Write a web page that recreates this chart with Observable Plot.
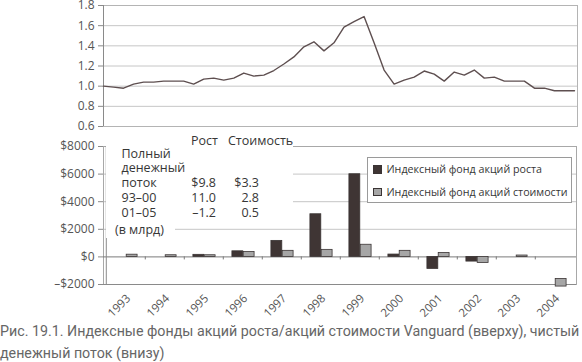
<!DOCTYPE html>
<html><head><meta charset="utf-8">
<script src="https://cdn.jsdelivr.net/npm/d3@7"></script>
<script src="https://cdn.jsdelivr.net/npm/@observablehq/plot@0.6"></script>
<style>
body{margin:0;background:#fff;}
#wrap{position:relative;width:582px;height:362px;overflow:hidden;font-family:"Open Sans",sans-serif;}
#wrap svg{position:absolute;left:0;overflow:visible;}
.t{position:absolute;white-space:nowrap;line-height:1;transform:translateY(-50%);}
</style></head><body><div id="wrap"></div>
<script>
// ---- Top chart: growth / value index ratio (quarterly, 1993–2004)
const ratio = [1.00,0.99,0.98,1.02,1.04,1.04,1.05,1.05,1.05,1.02,1.07,1.08,
               1.06,1.08,1.13,1.10,1.11,1.155,1.22,1.29,1.39,1.44,1.35,1.43,
               1.585,1.64,1.69,1.43,1.16,1.02,1.06,1.09,1.15,1.12,1.05,1.14,
               1.11,1.16,1.08,1.09,1.05,1.05,1.05,0.98,0.98,0.955,0.955,0.955];
const ratioTicks = [0.6,0.8,1.0,1.2,1.4,1.6,1.8];

// ---- Bottom chart: net cash flow ($ mln)
const years = ["1993","1994","1995","1996","1997","1998","1999","2000","2001","2002","2003","2004"];
const growthFlow = [0,0,150,405,1160,3090,5990,170,-870,-340,0,0];
const valueFlow = [160,120,120,360,440,510,880,440,290,-435,100,-2150];
const valueFlowStart = [0,0,0,0,0,0,0,0,0,0,0,-1600];
const flowTicks = [-2000,0,2000,4000,6000,8000];

// ---- Inset table and legend
const tableHeader = ["Рост","Стоимость"];
const tableRowLabels = ["Полный","денежный","поток","93–00","01–05","(в млрд)"];
const tableGrowth = ["","","$9.8","11.0","–1.2",""];
const tableValue = ["","","$3.3","2.8","0.5",""];
const seriesNames = ["Индексный фонд акций роста","Индексный фонд акций стоимости"];
const captionLines = ["Рис. 19.1. Индексные фонды акций роста/акций стоимости Vanguard (вверху), чистый",
                      "денежный поток (внизу)"];

const wrap = document.getElementById("wrap");
const FONT = "Open Sans";
const growthColor = "#3f3534", valueColor = "#a6a6a6", barStroke = "#3a3434";

// Top chart
const topChart = Plot.plot({
  width: 582, height: 130, marginLeft: 103, marginRight: 5, marginTop: 5, marginBottom: 4,
  style: {fontFamily: FONT, background: "transparent"},
  x: {domain: [0, 47.3], axis: null},
  y: {domain: [0.6, 1.8], axis: null},
  marks: [
    Plot.ruleY(ratioTicks, {stroke: "#c6c6c6"}),
    Plot.frame({stroke: "#b4b4b4"}),
    Plot.ruleX([0], {stroke: "#8a8a8a"}),
    Plot.axisY(ratioTicks, {tickSize: 5, tickPadding: 4, tickFormat: d => d.toFixed(1),
      stroke: "#8a8a8a", fill: "#555", fontSize: 12, label: null}),
    Plot.lineY(ratio, {x: (d, i) => i, y: d => d, stroke: "#5e4f50", strokeWidth: 1.4})
  ]
});
topChart.style.top = "0px";
wrap.appendChild(topChart);

// Bottom chart
const rows = years.map((year, i) => ({year, growth: growthFlow[i], value: valueFlow[i], valueStart: valueFlowStart[i]}));
const bw = (582 - 103 - 6) / years.length;
const bottomChart = Plot.plot({
  width: 582, height: 200, marginLeft: 103, marginRight: 6, marginTop: 16, marginBottom: 46,
  style: {fontFamily: FONT, background: "transparent"},
  x: {domain: years, padding: 0, axis: null},
  y: {domain: [-2000, 8000], axis: null},
  marks: [
    Plot.ruleY(flowTicks.filter(d => d > 0), {stroke: "#c6c6c6"}),
    Plot.frame({stroke: "#a8a8a8"}),
    Plot.ruleY(flowTicks.slice(0, 1), {stroke: "#8a8a8a"}),
    Plot.ruleY([0], {stroke: "#7a7a7a"}),
    Plot.ruleX(years.slice(1), {x: d => d, y1: 0, y2: -220, dx: -bw / 2, stroke: "#7a7a7a"}),
    Plot.ruleX(years.slice(0, 1), {x: d => d, dx: -bw / 2, stroke: "#8a8a8a"}),
    Plot.axisY(flowTicks, {tickSize: 5, tickPadding: 4, stroke: "#8a8a8a", fill: "#555", fontSize: 12, label: null,
      tickFormat: d => d < 0 ? "–$" + (-d) : "$" + d}),
    Plot.text(years, {x: d => d, frameAnchor: "bottom", rotate: -45, textAnchor: "end", lineAnchor: "middle",
      dx: 2.5, dy: 12, fill: "#555", fontSize: 11.5}),
    Plot.barY(rows, {x: "year", y1: 0, y2: "growth", fill: growthColor, stroke: barStroke, strokeWidth: 0.8,
      insetLeft: bw / 2 - 10.8, insetRight: bw / 2 - 0.5}),
    Plot.barY(rows, {x: "year", y1: "valueStart", y2: "value", fill: valueColor, stroke: barStroke, strokeWidth: 0.8,
      insetLeft: bw / 2 + 0.5, insetRight: bw / 2 - 11.8})
  ]
});
bottomChart.style.top = "130px";
wrap.appendChild(bottomChart);

function addText(txt, opts) {
  const d = document.createElement("div");
  d.className = "t";
  d.textContent = txt;
  Object.assign(d.style, opts);
  wrap.appendChild(d);
  return d;
}
function addBox(opts) {
  const d = document.createElement("div");
  d.style.position = "absolute";
  Object.assign(d.style, opts);
  wrap.appendChild(d);
  return d;
}

// Inset table with white background hiding gridlines
addBox({left: "106px", top: "134px", width: "187px", height: "88px", background: "#fff"});
addBox({left: "106px", top: "222px", width: "69px", height: "16px", background: "#fff"});
const tcol = "#363636", tsize = "12.5px";
addText(tableHeader[0], {left: "191px", top: "141px", fontSize: tsize, color: tcol, fontFamily: FONT});
addText(tableHeader[1], {left: "228px", top: "141px", fontSize: tsize, color: tcol, fontFamily: FONT});
const rowY = [154, 168, 183, 198, 213, 230];
tableRowLabels.forEach((lab, i) => {
  addText(lab, {left: (i === 5 ? 115 : 121.5) + "px", top: rowY[i] + "px", fontSize: tsize, color: tcol, fontFamily: FONT});
  if (tableGrowth[i]) addText(tableGrowth[i], {right: (582 - 216) + "px", top: rowY[i] + "px", fontSize: tsize, color: tcol, fontFamily: FONT});
  if (tableValue[i]) addText(tableValue[i], {right: (582 - 259) + "px", top: rowY[i] + "px", fontSize: tsize, color: tcol, fontFamily: FONT});
});

// Legend
addBox({left: "367px", top: "157px", width: "203px", height: "44px", background: "#fff", border: "1px solid #9a9a9a"});
[growthColor, valueColor].forEach((c, i) => {
  const y = i === 0 ? 165 : 187.5;
  addBox({left: "373px", top: y + "px", width: "6.5px", height: "6.5px", background: c, border: "0.8px solid " + barStroke});
  addText(seriesNames[i], {left: "386.5px", top: (y + 4) + "px", fontSize: "10.7px", color: tcol, fontFamily: FONT});
});

// Caption
const capEls = captionLines.map((line, i) =>
  addText(line, {left: "0px", top: (i === 0 ? 331 : 353) + "px", fontSize: "15px", color: "#666", fontFamily: "Roboto"}));
// fit first line to the reference's width
const w0 = capEls[0].getBoundingClientRect().width;
const fs = 15 * 580 / w0;
capEls.forEach(el => el.style.fontSize = fs + "px");
</script></body></html>
